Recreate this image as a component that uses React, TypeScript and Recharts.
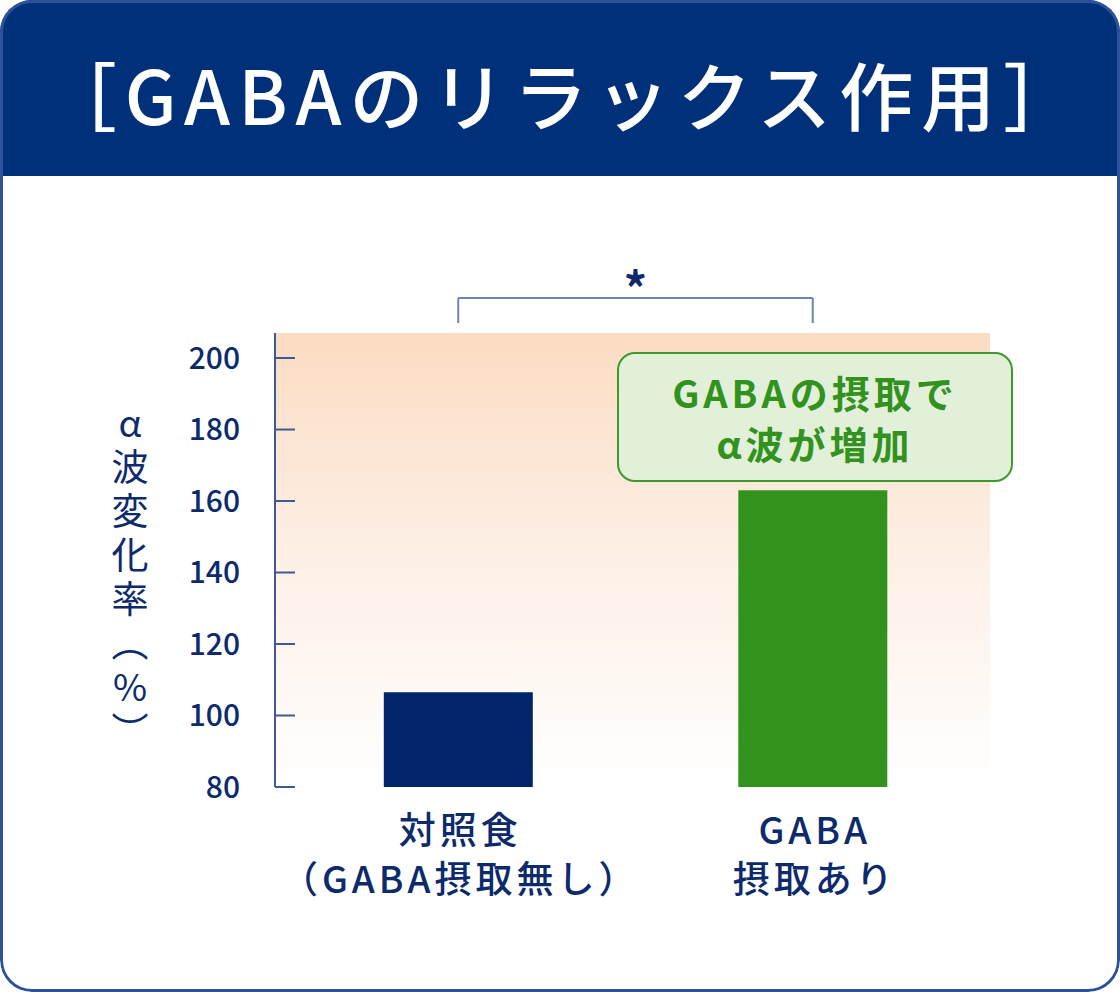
import React from 'react';
import { BarChart, Bar, XAxis, YAxis, Cell, CartesianGrid, ReferenceLine } from 'recharts';

const CATEGORIES = ['対照食（GABA摂取無し）', 'GABA摂取あり'];
const CATEGORY_LINES = [['対照食', '（GABA摂取無し）'], ['GABA', '摂取あり']];
const VALUES = [106.5, 163];
const BAR_COLORS = ['#00256b', '#32921e'];
const Y_TICKS = [80, 100, 120, 140, 160, 180, 200];
const Y_LABEL = 'α波変化率（%）';
const TITLE = '［GABAのリラックス作用］';
const CALLOUT = ['GABAの摂取で', 'α波が増加'];
const SIG_MARK = '*';

const data = CATEGORIES.map((name, i) => ({ name, value: VALUES[i] }));

const NAVY = '#0d2a6b';
const AXIS = '#3d5a96';
const FONT = '"Noto Sans CJK JP", "Noto Sans", sans-serif';

const CategoryTick = (props: any) => {
  const { x, y, index } = props;
  const lines = CATEGORY_LINES[index] || [];
  return (
    <text x={x + 2} y={y + 57} textAnchor="middle" fill={NAVY}
      fontFamily={FONT} fontSize={37} fontWeight={500} letterSpacing={4}>
      {lines.map((l, i) => (
        <tspan key={i} x={x + 2} dy={i === 0 ? 0 : 49}>{l}</tspan>
      ))}
    </text>
  );
};

const YLabel = (props: any) => {
  const vb = props.viewBox || { x: 0, y: 0, height: 0 };
  const cy = vb.y + vb.height / 2 + 20;
  return (
    <text x={130} y={cy} textAnchor="middle" fill={NAVY} fontFamily={FONT} fontSize={37}
      letterSpacing={7} style={{ writingMode: 'vertical-rl', textOrientation: 'upright' } as any}>
      {Y_LABEL}
    </text>
  );
};

export default function App() {
  return (
    <div style={{ position: 'absolute', left: 0, top: 0, width: 1120, height: 992, background: '#fff', borderRadius: 32, overflow: 'hidden', fontFamily: FONT }}>
      {/* header */}
      <div style={{ position: 'absolute', left: 0, top: 0, width: 1120, height: 176, background: '#00307a', display: 'flex', alignItems: 'center', justifyContent: 'center' }}>
        <span style={{ color: '#fff', fontSize: 74, fontWeight: 500, letterSpacing: 8, marginTop: 8, marginLeft: 8 }}>{TITLE}</span>
      </div>

      <div style={{ position: 'absolute', left: 0, top: 0 }}>
        <BarChart width={1120} height={992} data={data} margin={{ top: 333, right: 130, bottom: 105, left: 185 }} barCategoryGap="29%">
          <defs>
            <linearGradient id="peach" x1="0" y1="0" x2="0" y2="1">
              <stop offset="0%" stopColor="#fcdcc2" />
              <stop offset="45%" stopColor="#fdeee3" />
              <stop offset="100%" stopColor="#ffffff" />
            </linearGradient>
          </defs>
          <CartesianGrid horizontal={false} vertical={false} fill="url(#peach)" stroke="none" />
          <XAxis xAxisId="mid" type="number" domain={[0, 2]} ticks={[1]} height={0}
            axisLine={{ stroke: AXIS, strokeWidth: 2 }} tickLine={{ stroke: AXIS, strokeWidth: 2 }}
            tickSize={-20} tickFormatter={() => ''} />
          <XAxis dataKey="name" axisLine={false} tickLine={false} tickSize={0} tickMargin={0}
            height={100} tick={<CategoryTick />} interval={0} padding={{ left: 6, right: 0 }} />
          <YAxis domain={[80, 207]} ticks={Y_TICKS} width={90} allowDataOverflow
            axisLine={{ stroke: AXIS, strokeWidth: 2 }} tickLine={{ stroke: AXIS, strokeWidth: 2 }}
            tickSize={-20} tickMargin={55}
            tick={{ fill: NAVY, fontSize: 30, fontFamily: FONT, fontWeight: 500 }}
            label={{ content: <YLabel /> }} />
          <Bar dataKey="value" isAnimationActive={false}>
            {data.map((d, i) => (
              <Cell key={d.name} fill={BAR_COLORS[i]} />
            ))}
          </Bar>
          <ReferenceLine segment={[{ x: CATEGORIES[0], y: 216.8 }, { x: CATEGORIES[1], y: 216.8 }]}
            ifOverflow="visible" stroke="#6b85b5" strokeWidth={2}
            label={{ value: SIG_MARK, position: 'top', fill: NAVY, fontSize: 46, fontWeight: 700, fontFamily: FONT, offset: -8 }} />
          <ReferenceLine segment={[{ x: CATEGORIES[0], y: 216.8 }, { x: CATEGORIES[0], y: 209.8 }]}
            ifOverflow="visible" stroke="#6b85b5" strokeWidth={2} />
          <ReferenceLine segment={[{ x: CATEGORIES[1], y: 216.8 }, { x: CATEGORIES[1], y: 209.8 }]}
            ifOverflow="visible" stroke="#6b85b5" strokeWidth={2} />
        </BarChart>
      </div>

      {/* callout */}
      <div style={{ position: 'absolute', left: 617, top: 352, width: 396, height: 130, boxSizing: 'border-box', border: '2.5px solid #3c9a2e', borderRadius: 18, background: '#e2efd9', color: '#32921e', fontSize: 38, fontWeight: 700, letterSpacing: 4, lineHeight: '51px', textAlign: 'center', paddingTop: 12 }}>
        {CALLOUT.map((l) => <div key={l}>{l}</div>)}
      </div>

      {/* card border */}
      <div style={{ position: 'absolute', left: 0, top: 0, width: 1120, height: 992, boxSizing: 'border-box', border: '3px solid #2d519b', borderRadius: 32, pointerEvents: 'none' }} />
    </div>
  );
}
